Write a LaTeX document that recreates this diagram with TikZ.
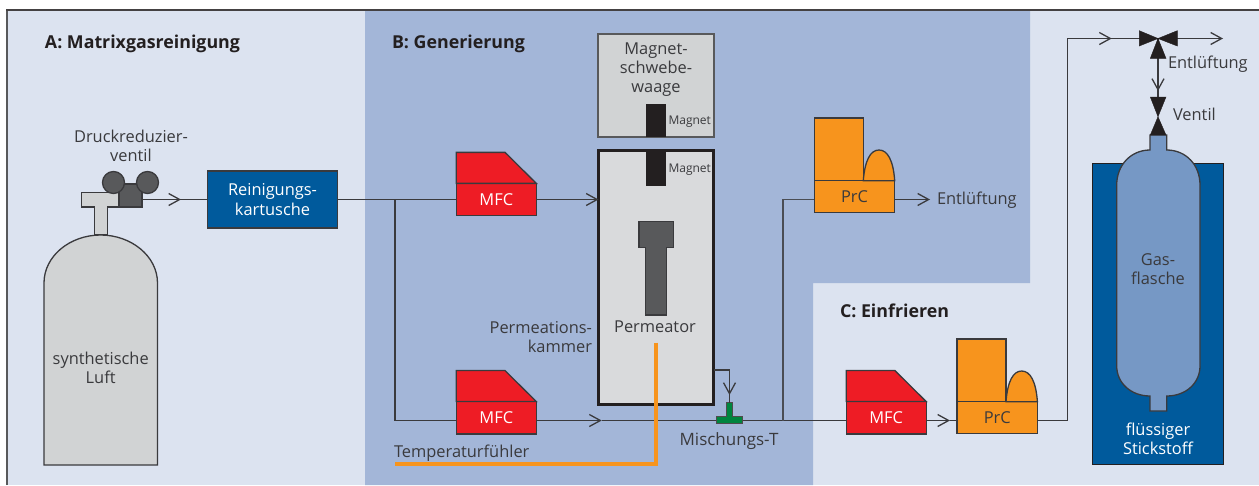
\documentclass[tikz,border=0pt]{standalone}
\usepackage{fontspec}
\setmainfont{Open Sans}
\usetikzlibrary{arrows.meta,calc}
\definecolor{panelA}{HTML}{DCE3F0}
\definecolor{panelB}{HTML}{A3B6D8}
\definecolor{ink}{HTML}{3A3A3D}
\definecolor{dgray}{HTML}{58595B}
\definecolor{lgray}{HTML}{D1D3D4}
\definecolor{chgray}{HTML}{D9DADC}
\definecolor{blk}{HTML}{231F20}
\definecolor{cblue}{HTML}{005A9C}
\definecolor{flask}{HTML}{7698C5}
\definecolor{mfcred}{HTML}{EE1C25}
\definecolor{prcor}{HTML}{F7941D}
\definecolor{tgreen}{HTML}{00853F}
\tikzset{
  every node/.style={outer sep=0pt},
  lbl/.style={inner sep=0pt,text=ink,font=\fontsize{16.4}{19}\selectfont,align=center},
  lblsmall/.style={inner sep=0pt,text=ink,font=\fontsize{12}{14}\selectfont},
  title/.style={inner sep=0pt,text=blk,anchor=west,font=\fontsize{17.8}{20}\selectfont\bfseries},
  pipe/.style={draw=ink,line width=1.3pt},
  flow/.style={pipe,-{Straight Barb[length=11pt,width=12pt,line width=1.3pt]}},
  outl/.style={draw=ink,line width=1.3pt},
  boxn/.style={rectangle,outl,inner sep=0pt,font=\fontsize{16.4}{19}\selectfont,align=center},
  mfcb/.style={boxn,fill=mfcred,text=white,minimum width=80pt,minimum height=32.3pt},
  prcb/.style={boxn,fill=prcor,text=ink,minimum width=80.4pt,minimum height=32pt},
  valve/.style={fill=blk,draw=blk,line width=.4pt},
}
\newcommand{\MFCunit}[3]{% name, x centre, y centre of base
  \node[mfcb] (#1) at (#2,#3) {\raisebox{-1.8pt}{MFC}};
  \path[fill=mfcred,outl] (#1.north west) -- ++(0,-31) -- ++(48.7,0) -- (#1.north east) -- cycle;
}
\newcommand{\PrCunit}[3]{% name, x centre, y centre of base
  \node[prcb] (#1) at (#2,#3) {\raisebox{-1.8pt}{PrC}};
  \begin{scope}[shift={(#1.north west)}]
    \path[fill=prcor,outl] (0,0) -- (0,-62.7) -- (49,-62.7) -- (49,0) -- cycle;
    \path[fill=prcor,outl] (49,0) .. controls (50.5,-20) and (56,-30.7) .. (64.7,-30.7) .. controls (73.4,-30.7) and (79,-20) .. (80.4,0) -- cycle;
  \end{scope}
}
\begin{document}
\begin{tikzpicture}[x=1pt,y=-1pt]
\useasboundingbox (0,0) rectangle (1259,485);
\fill[white] (0,0) rectangle (1259,485);
% panels
\fill[panelA] (7,10) rectangle (1259,485);
\fill[panelB] (365,10) -- (1030,10) -- (1030,283) -- (813,283) -- (813,485) -- (365,485) -- cycle;
\draw[dgray,line width=2pt] (6.5,485) -- (6.5,10);
\draw[blk!85,line width=1.2pt] (6,10) -- (1259,10);
% titles
\node[title] (ta) at (45,44) {A: Matrixgasreinigung};
\node[title] (tb) at (392,44) {B: Generierung};
\node[title] (tc) at (840,311) {C: Einfrieren};
% air cylinder
\path[fill=lgray,outl] (81.5,192.5) -- (119,192.5) -- (119,207) -- (107.5,207) -- (107.5,235) -- (94.5,235) -- (94.5,207) -- (81.5,207) -- cycle;
\path[fill=dgray,outl] (119,184) rectangle (142,207);
\path[fill=lgray,outl] (44,465) -- (44,283) .. controls (44,256) and (70,235) .. (100.7,235) .. controls (131,235) and (157.5,256) .. (157.5,283) -- (157.5,465) -- cycle;
\node[circle,fill=dgray,outl,minimum size=22pt,inner sep=0pt] (g1) at (113.5,182.5) {};
\node[circle,fill=dgray,outl,minimum size=22pt,inner sep=0pt] (g2) at (147.5,182.5) {};
\coordinate (regout) at (142,199.5);
\node[lbl] (lair) at (100.7,368) {synthetische\\Luft};
\node[lbl] (lreg) at (131,146) {Druckreduzier-\\ventil};
% junctions and rails
\coordinate (split) at (395,199.5);
\coordinate (rail) at (395,420.5);
\coordinate (tip1) at (181,199.5);
\coordinate (tip2) at (601.7,420.5);
% purification
\node[boxn,fill=cblue,text=white,minimum width=130pt,minimum height=57pt] (rk) at (272.5,199.5) {\raisebox{-1.5pt}{Reinigungs-}\\\raisebox{-2.5pt}{kartusche}};
% MFCs and PrCs
\MFCunit{mfca}{496.3}{199.5}
\MFCunit{mfcb}{496.3}{417.7}
\MFCunit{mfcc}{886.2}{417.7}
\PrCunit{prca}{854.5}{196.7}
\PrCunit{prcb}{997.2}{417.7}
% balance
\node[rectangle,fill=lgray,draw=dgray,line width=1.5pt,minimum width=116pt,minimum height=102.7pt,inner sep=0pt] (waage) at (656,85.4) {};
\node[lbl] (lwaage) at (656,69.5) {Magnet-\\schwebe-\\waage};
\node[rectangle,fill=chgray,draw=blk,line width=3pt,minimum width=115pt,minimum height=253.5pt,inner sep=0pt] (kammer) at (656,277.3) {};
\node[rectangle,fill=blk,minimum width=19.7pt,minimum height=33pt,inner sep=0pt] (m1) at (656.2,120.3) {};
\node[rectangle,fill=blk,minimum width=19.7pt,minimum height=36pt,inner sep=0pt] (m2) at (656.2,167.7) {};
\node[lblsmall,anchor=west] (lm1) at (668.5,122) {Magnet};
\node[lblsmall,anchor=west] (lm2) at (668.5,170) {Magnet};
% permeator
\path[fill=dgray,outl] (639,221.7) -- (673.3,221.7) -- (673.3,247.7) -- (666.7,247.7) -- (666.7,315) -- (645.7,315) -- (645.7,247.7) -- (639,247.7) -- cycle;
\node[lbl] (lperm) at (655,327) {Permeator};
\node[lbl,anchor=east,align=right] (lkam) at (592,337) {Permeations-\\kammer};
% connectors
\draw[flow] (regout) -- (tip1);
\draw[pipe] (regout) -- (rk.west);
\draw[pipe] (rk.east) -- (split) -- (split -| mfca.west);
\draw[pipe] (split) -- (rail) -- (rail -| mfcb.west);
\coordinate (ina) at (mfca.east -| kammer.west);
\draw[flow] (mfca.east) -- (ina);
\draw[flow] (rail -| mfcb.east) -- (tip2);
\draw[pipe] (tip2) -- (rail -| mfcc.west);
% T piece
\node[rectangle,fill=tgreen,draw=blk!80,line width=1pt,minimum width=6.4pt,minimum height=14pt,inner sep=0pt] (tstem) at (729.5,409.5) {};
\node[rectangle,fill=tgreen,draw=blk!80,line width=1pt,minimum width=26.7pt,minimum height=7.4pt,inner sep=0pt] (tbar) at (729.4,420) {};
\fill[tgreen] (727,414) rectangle (732,418);
\coordinate (kout) at (kammer.east |- 0,370);
\coordinate (kdown) at (tstem.north |- kout);
\coordinate (kdtip) at (729.5,395);
\draw[pipe] (kout) -- (kdown) -- (tstem.north);
\draw[flow] (kdown) -- (kdtip);
\node[lbl,font=\fontsize{17}{19}\selectfont] (lmisch) at (729,441.5) {Mischungs-T};
% to first PrC
\coordinate (up) at (783,420.5);
\coordinate (upc) at (783,199.5);
\draw[pipe,draw=ink!85!panelB] (up) -- (upc) -- (upc -| prca.west);
\coordinate (ptip) at (930,199.5);
\draw[flow] (prca.east |- ptip) -- (ptip);
\node[lbl,anchor=west] (lent) at (937,200.5) {Entlüftung};
% to second PrC
\coordinate (ctip) at (950,420.5);
\draw[flow] (rail -| mfcc.east) -- (ctip);
\draw[pipe] (ctip) -- (rail -| prcb.west);
% thermocouple
\node[lbl,anchor=west] (ltemp) at (394,453.5) {Temperaturfühler};
\coordinate (tc) at (656,342.7);
\coordinate (tcc) at (656,464);
\coordinate (tce) at (395,464);
\draw[prcor,line width=3.5pt] (tc) -- (tcc) -- (tce);
% dewar and flask
\node[rectangle,fill=cblue,draw=blk,line width=1pt,minimum width=130.7pt,minimum height=301.4pt,inner sep=0pt] (dewar) at (1158.3,314) {};
\path[fill=flask,outl] (1150,135) -- (1166.7,135) -- (1166.7,150) .. controls (1186,150) and (1200,165) .. (1200,185) -- (1200,366) .. controls (1200,383) and (1186,396) .. (1166.7,396) -- (1166.7,411) -- (1150,411) -- (1150,396) .. controls (1131,396) and (1116.7,383) .. (1116.7,366) -- (1116.7,185) .. controls (1116.7,165) and (1131,150) .. (1150,150) -- cycle;
\node[lbl] (lgas) at (1158,269) {Gas-\\flasche};
\node[lbl,text=white] (lstick) at (1158,439) {flüssiger\\Stickstoff};
% valves
\coordinate (v1) at (1158,38.5);
\coordinate (v2) at (1158,116.7);
\coordinate (outr) at (1223,38.5);
\coordinate (neck) at (1158,135);
\coordinate (v2top) at (1158,97);
\coordinate (vtip) at (1158,91);
\coordinate (over) at (1067.5,38.5);
\coordinate (overb) at (1067.5,420.5);
\coordinate (vin) at (1111.7,38.5);
\draw[pipe] (rail -| prcb.east) -- (overb) -- (over) -- (v1);
\draw[flow] (over) -- (vin);
\draw[flow] (v1) -- (outr);
\draw[pipe] (v1) -- (v2top);
\draw[flow] (v1) -- (vtip);
\fill[valve] (v1) -- (1139.3,30.7) -- (1139.3,46) -- cycle;
\fill[valve] (v1) -- (1177.3,30.7) -- (1177.3,46) -- cycle;
\fill[valve] (v1) -- (1150.3,58.3) -- (1166,58.3) -- cycle;
\fill[valve] (v2) -- (1150.3,97) -- (1166,97) -- cycle;
\fill[valve] (v2) -- (1150.3,135) -- (1166,135) -- cycle;
\node[lbl,anchor=west] (lent2) at (1168,64) {Entlüftung};
\node[lbl,anchor=west] (lven) at (1173,114.5) {Ventil};
\end{tikzpicture}
\end{document}
